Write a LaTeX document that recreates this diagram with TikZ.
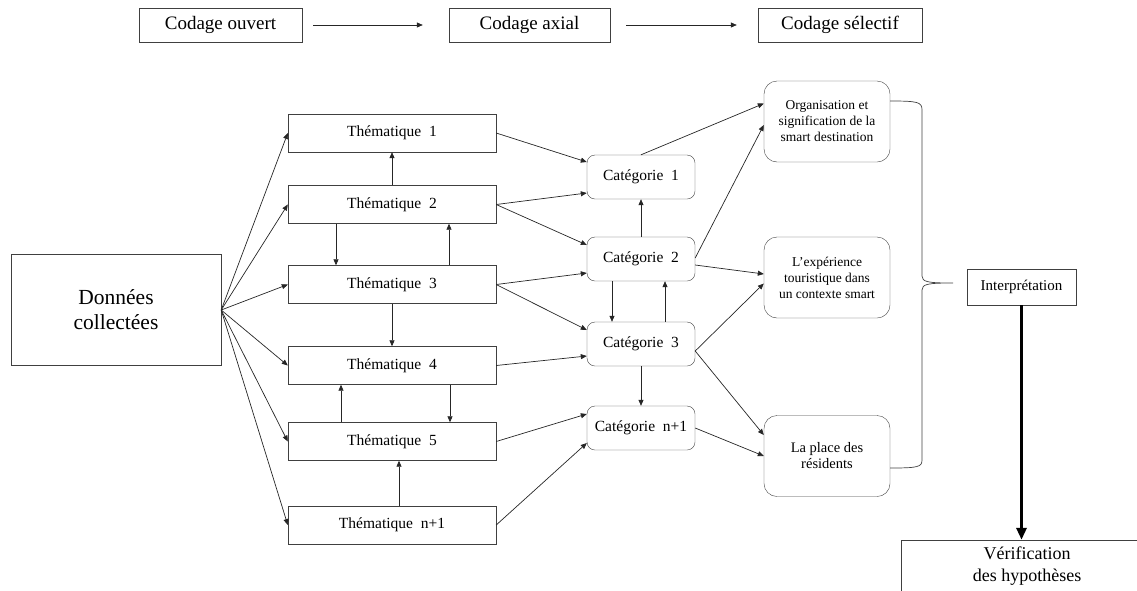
\documentclass[tikz,border=0pt]{standalone}
\usepackage{fontspec}
\setmainfont{Liberation Serif}
\usetikzlibrary{arrows.meta}

\begin{document}
\begin{tikzpicture}[
    x=1pt, y=-1pt,
    stage/.style={draw=black!75, rectangle, minimum height=34pt, inner sep=0pt, font=\fontsize{19}{21}\selectfont},
    theme/.style={draw=black!75, rectangle, minimum width=208pt, minimum height=38pt, inner sep=0pt, font=\fontsize{15.5}{17}\selectfont},
    categ/.style={draw=black!75, rectangle, rounded corners=8pt, minimum width=108pt, minimum height=44pt, inner sep=0pt, font=\fontsize{15.5}{17}\selectfont},
    result/.style={draw=black!75, rectangle, rounded corners=13pt, minimum width=126pt, minimum height=81pt, inner sep=0pt, align=center, font=\fontsize{13.5}{16}\selectfont},
    arrow/.style={-{Triangle[length=6pt,width=5pt]}, line width=0.7pt, black!85},
    bigarrow/.style={-{Triangle[length=12pt,width=10pt]}, line width=3pt}
]
\useasboundingbox (0,0) rectangle (1137,590);
\clip (0,0) rectangle (1137,590);

% coding stages
\node[stage, minimum width=163pt] (open) at (220.5, 25) {Codage ouvert};
\node[stage, minimum width=161pt] (axial) at (529.5, 25) {Codage axial};
\node[stage, minimum width=164pt] (select) at (840, 25) {Codage sélectif};

\draw[arrow, shorten <=11pt, shorten >=26pt] (open) -- (axial);
\draw[arrow, shorten <=16pt, shorten >=21pt] (axial) -- (select);

% data and themes
\node[draw=black!75, minimum width=210pt, minimum height=111pt, align=center, font=\fontsize{21.5}{25}\selectfont] (data) at (116, 310) {Données\\collectées};

\node[theme] (t1) at (392, 133) {Thématique\enspace 1};
\node[theme] (t2) at (392, 204.5) {Thématique\enspace 2};
\node[theme] (t3) at (392, 284.5) {Thématique\enspace 3};
\node[theme] (t4) at (392, 365.5) {Thématique\enspace 4};
\node[theme] (t5) at (392, 441.5) {Thématique\enspace 5};
\node[theme] (tn) at (392, 525) {Thématique\enspace n+1};

\foreach \t in {t1, t2, t3, t4, t5, tn}
    \draw[arrow] (data.east) -- (\t.west);

\draw[arrow] (t2) -- (t1);
\draw[arrow] ([xshift=-56pt]t2.south) -- ([xshift=-56pt]t3.north);
\draw[arrow] ([xshift=57pt]t3.north) -- ([xshift=57pt]t2.south);
\draw[arrow] (t3) -- (t4);
\draw[arrow] ([xshift=-51pt]t5.north) -- ([xshift=-51pt]t4.south);
\draw[arrow] ([xshift=58pt]t4.south) -- ([xshift=58pt]t5.north);
\draw[arrow] ([xshift=7pt]tn.north) -- ([xshift=7pt]t5.south);

% categories
\node[categ] (c1) at (641, 177) {Catégorie\enspace 1};
\node[categ] (c2) at (641, 259) {Catégorie\enspace 2};
\node[categ] (c3) at (641, 344) {Catégorie\enspace 3};
\node[categ] (cn) at (641, 428) {Catégorie\enspace n+1};

\draw[arrow] (t1.east) -- ([yshift=15pt]c1.west);
\draw[arrow] (t2.east) -- ([yshift=-16pt]c1.west);
\draw[arrow] (t2.east) -- ([yshift=14pt]c2.west);
\draw[arrow] (t3.east) -- ([yshift=-14pt]c2.west);
\draw[arrow] (t3.east) -- ([yshift=14pt]c3.west);
\draw[arrow] (t4.east) -- ([yshift=-12pt]c3.west);
\draw[arrow] (t5.east) -- ([yshift=14pt]cn.west);
\draw[arrow] (tn.east) -- ([yshift=-15pt]cn.west);

\draw[arrow] (c2) -- (c1);
\draw[arrow] ([xshift=-29pt]c2.south) -- ([xshift=-29pt]c3.north);
\draw[arrow] ([xshift=24pt]c3.north) -- ([xshift=24pt]c2.south);
\draw[arrow] (c3) -- (cn);

% results
\node[result] (org) at (827, 121.5) {Organisation et\\signification de la\\smart destination};
\node[result] (exp) at (827, 277.5) {L'expérience\\touristique dans\\un contexte smart};
\node[result, font=\fontsize{14.5}{16}\selectfont] (place) at (827, 456) {La place des\\résidents};

\draw[arrow] (c1.north) -- ([yshift=18pt]org.west);
\draw[arrow] ([yshift=1pt]c2.east) -- ([yshift=-3.5pt]org.west);
\draw[arrow] ([yshift=-6pt]c2.east) -- ([yshift=3.5pt]exp.west);
\draw[arrow] ([yshift=-7pt]c3.east) -- ([yshift=-6pt]exp.west);
\draw[arrow] ([yshift=-7pt]c3.east) -- ([yshift=21pt]place.west);
\draw[arrow] (cn.east) -- (place.west);

% brace
\draw[black!75, line width=0.7pt] (890,101) .. controls (918,101) and (922,102) .. (922,110) -- (922,276)
    .. controls (922,282) and (928,283) .. (953,283)
    .. controls (928,283) and (922,284) .. (922,290) -- (922,460)
    .. controls (922,467) and (918,468) .. (890,468);

% interpretation
\node[draw=black!75, minimum width=109pt, minimum height=36pt, inner sep=0pt, font=\fontsize{15}{17}\selectfont] (interp) at (1021.5, 287) {Interprétation};
\node[draw=black!75, minimum width=252pt, minimum height=52pt, inner sep=0pt, align=center, font=\fontsize{18}{22}\selectfont] (verif) at (1027, 566) {Vérification\\des hypothèses};

\draw[bigarrow] (interp.south) -- (interp.south |- verif.north);

\end{tikzpicture}
\end{document}
